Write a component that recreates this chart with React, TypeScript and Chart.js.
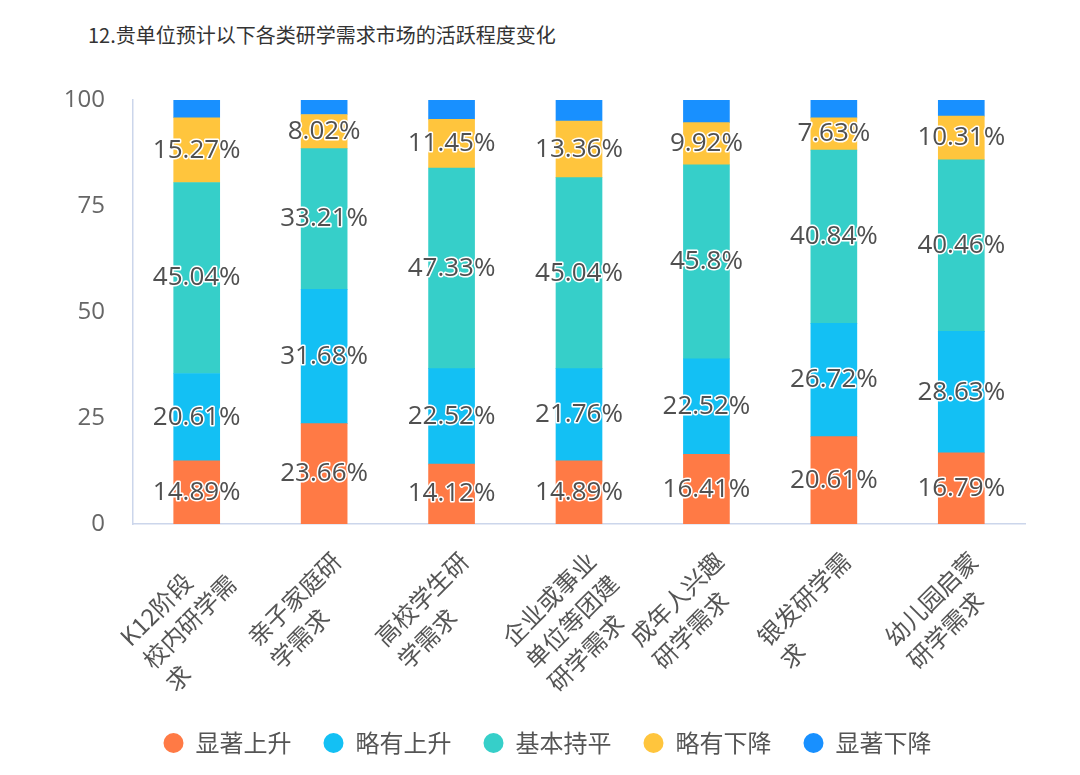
import React, { useEffect, useRef } from "react";
import { Chart, registerables } from "chart.js";

Chart.register(...registerables);

// Categories (wrapped into lines as they are printed under the axis)
const categories: string[][] = [
  ["K12阶段", "校内研学需", "求"],
  ["亲子家庭研", "学需求"],
  ["高校学生研", "学需求"],
  ["企业或事业", "单位等团建", "研学需求"],
  ["成年人兴趣", "研学需求"],
  ["银发研学需", "求"],
  ["幼儿园启蒙", "研学需求"],
];

const seriesNames = ["显著上升", "略有上升", "基本持平", "略有下降", "显著下降"];

// Share of responses (%) per category
const sharpRise = [14.89, 23.66, 14.12, 14.89, 16.41, 20.61, 16.79];
const slightRise = [20.61, 31.68, 22.52, 21.76, 22.52, 26.72, 28.63];
const flat = [45.04, 33.21, 47.33, 45.04, 45.8, 40.84, 40.46];
const slightFall = [15.27, 8.02, 11.45, 13.36, 9.92, 7.63, 10.31];
const sharpFall = [4.19, 3.43, 4.58, 4.95, 5.35, 4.2, 3.81];

const yTicks = [0, 25, 50, 75, 100];

const seriesColors = ["#FF7A45", "#13C0F4", "#36CFC9", "#FFC53D", "#1890FF"];

const titleText = "12.贵单位预计以下各类研学需求市场的活跃程度变化";

const cjkFont = "'Noto Sans CJK SC', sans-serif";
const numFont = "'Open Sans', 'Noto Sans CJK SC', sans-serif";

// Percent labels centred on each segment (top series is left unlabeled)
const valueLabels = {
  id: "valueLabels",
  afterDatasetsDraw(chart: any) {
    const ctx = chart.ctx as CanvasRenderingContext2D;
    ctx.save();
    ctx.font = `26px ${numFont}`;
    ctx.textAlign = "center";
    ctx.textBaseline = "middle";
    ctx.lineJoin = "round";
    chart.data.datasets.forEach((ds: any, di: number) => {
      if (di === 4) return;
      const meta = chart.getDatasetMeta(di);
      meta.data.forEach((bar: any, i: number) => {
        const { x, y, base } = bar.getProps(["x", "y", "base"], true);
        const text = `${ds.data[i]}%`;
        const cy = (y + base) / 2;
        ctx.strokeStyle = "#ffffff";
        ctx.lineWidth = 3;
        ctx.strokeText(text, x, cy);
        ctx.fillStyle = "#505050";
        ctx.fillText(text, x, cy);
      });
    });
    ctx.restore();
  },
};

// Rotated, multi-line category labels with left-aligned lines
const categoryLabels = {
  id: "categoryLabels",
  afterDraw(chart: any) {
    const scale = chart.scales.x;
    const ctx = chart.ctx as CanvasRenderingContext2D;
    ctx.save();
    ctx.font = `24px ${cjkFont}`;
    ctx.fillStyle = "#555555";
    ctx.textAlign = "left";
    ctx.textBaseline = "top";
    const lineHeight = 32;
    categories.forEach((lines, i) => {
      const px = scale.getPixelForTick(i);
      const w = Math.max(...lines.map((l) => ctx.measureText(l).width));
      ctx.save();
      ctx.translate(px + 4, scale.top + 24);
      ctx.rotate(-Math.PI / 4);
      lines.forEach((l, j) => ctx.fillText(l, -w, j * lineHeight));
      ctx.restore();
    });
    ctx.restore();
  },
};

// Nudge the legend row to the right so it sits under the plot
const legendOffset = {
  id: "legendOffset",
  afterLayout(chart: any) {
    const lg = chart.legend;
    if (lg) {
      lg.left += 25;
      lg.right += 25;
    }
  },
};

export default function App() {
  const canvasRef = useRef<HTMLCanvasElement>(null);

  useEffect(() => {
    const canvas = canvasRef.current;
    if (!canvas) return;
    const seriesData = [sharpRise, slightRise, flat, slightFall, sharpFall];
    const chart = new Chart(canvas, {
      type: "bar",
      data: {
        labels: categories,
        datasets: seriesNames.map((name, i) => ({
          label: name,
          data: seriesData[i],
          backgroundColor: seriesColors[i],
          borderWidth: 0,
          barThickness: 46,
        })),
      },
      options: {
        responsive: false,
        animation: false,
        layout: { padding: { left: 20, right: 55, top: 100, bottom: 10 } },
        plugins: {
          legend: {
            position: "bottom",
            labels: {
              usePointStyle: true,
              pointStyle: "circle",
              pointStyleWidth: 20,
              boxHeight: 14,
              padding: 32,
              color: "#555555",
              font: { size: 24, family: cjkFont },
            },
          },
          tooltip: { enabled: false },
        },
        scales: {
          x: {
            stacked: true,
            grid: { display: false, drawTicks: false },
            border: { display: true, color: "#ccd6eb", width: 1.5 },
            ticks: { display: false },
            afterFit: (s: any) => {
              s.height = 175;
            },
          },
          y: {
            stacked: true,
            min: yTicks[0],
            max: yTicks[yTicks.length - 1],
            afterBuildTicks: (s: any) => {
              s.ticks = yTicks.map((v) => ({ value: v }));
            },
            grid: { display: false, drawTicks: false },
            border: { display: true, color: "#ccd6eb", width: 1.5 },
            ticks: {
              padding: 28,
              color: "#666666",
              font: { size: 24, family: numFont },
            },
            afterFit: (s: any) => {
              s.width = 113;
            },
          },
        },
      },
      plugins: [valueLabels, categoryLabels, legendOffset],
    } as any);
    return () => chart.destroy();
  }, []);

  return (
    <div
      style={{
        position: "fixed",
        left: 0,
        top: 0,
        width: 1080,
        height: 775,
        background: "#ffffff",
        overflow: "hidden",
      }}
    >
      <div
        style={{
          position: "absolute",
          left: 88,
          top: 22,
          fontSize: 20,
          lineHeight: "26px",
          color: "#333333",
          fontFamily: cjkFont,
          whiteSpace: "nowrap",
        }}
      >
        {titleText}
      </div>
      <canvas
        ref={canvasRef}
        width={1080}
        height={775}
        style={{ position: "absolute", left: 0, top: 0, width: 1080, height: 775 }}
      />
    </div>
  );
}
